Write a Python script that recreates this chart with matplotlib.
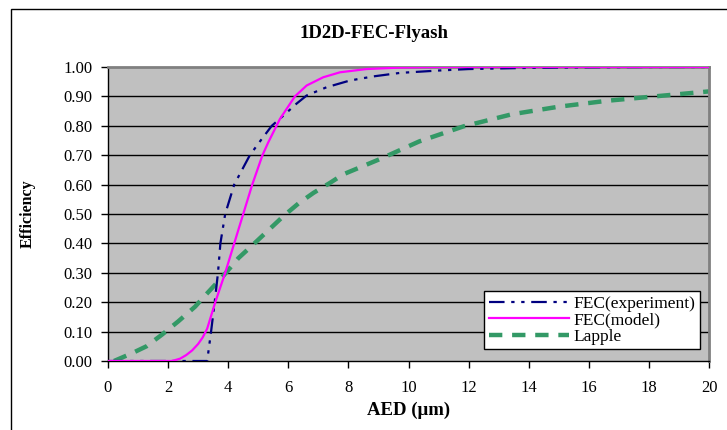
import matplotlib
matplotlib.use('Agg')
import matplotlib.pyplot as plt
from matplotlib.patches import Rectangle

# values
exp_x = [0, 3.3, 3.43, 3.55, 3.66, 3.74, 3.9, 4.2, 4.72, 5.08, 5.45, 5.83, 6.27, 6.61, 7.27, 8.05,
         8.83, 9.72, 11, 12, 14, 16, 18, 20]
exp_y = [0, 0, 0.1, 0.2, 0.3, 0.4, 0.5, 0.6, 0.7, 0.75, 0.8, 0.834, 0.875, 0.903, 0.931, 0.954,
         0.968, 0.98, 0.988, 0.993, 0.997, 0.999, 1.0, 1.0]

model_x = [0, 2.1, 2.2, 2.4, 2.6, 2.8, 3.0, 3.15, 3.3, 3.57, 3.9, 4.2, 4.5, 4.8, 5.14, 5.33, 5.72,
           6.22, 6.61, 7.16, 7.72, 8.6, 9.72, 11, 20]
model_y = [0, 0, 0.002, 0.008, 0.02, 0.036, 0.058, 0.08, 0.11, 0.2, 0.3, 0.4, 0.5, 0.6, 0.7, 0.743, 0.823,
           0.9, 0.937, 0.965, 0.982, 0.993, 0.998, 1.0, 1.0]

lapple_x = [0.2, 0.79, 1.28, 1.8, 2.34, 2.9, 3.28, 3.84, 4.34, 4.84, 5.34, 5.84, 6.34, 6.84, 7.39, 7.83,
            9.1, 10.36, 11.83, 13.43, 15.0, 16.6, 18.4, 20]
lapple_y = [0, 0.026, 0.05, 0.09, 0.135, 0.185, 0.228, 0.29, 0.35, 0.397, 0.445, 0.493, 0.536, 0.572,
            0.606, 0.635, 0.689, 0.747, 0.798, 0.839, 0.865, 0.885, 0.902, 0.917]

x_ticks = list(range(0, 21, 2))
y_ticks = [i / 10 for i in range(11)]

plt.rcParams['font.family'] = ['Liberation Serif', 'DejaVu Serif']

fig = plt.figure(figsize=(7.27, 4.30), dpi=100)
fig.patch.set_facecolor('white')
# outer chart frame (left and top edges visible)
fig.patches.append(Rectangle((11 / 727, -0.1), 1.0, 1.1 - 9 / 430, transform=fig.transFigure,
                             fill=False, edgecolor='black', linewidth=1.0))

ax = fig.add_axes([108 / 727, 1 - 361 / 430, 601 / 727, 294 / 430])
ax.set_facecolor('#c0c0c0')

for t in y_ticks[1:-1]:
    ax.axhline(t, color='black', linewidth=1.0, zorder=1)

ax.plot(exp_x, exp_y, color='#000080', linewidth=1.6, dashes=(7, 3, 1.5, 3, 1.5, 3),
        label='FEC(experiment)', zorder=3)
ax.plot(model_x, model_y, color='#ff00ff', linewidth=1.6, label='FEC(model)', zorder=4)
ax.plot(lapple_x, lapple_y, color='#339966', linewidth=3.2, dashes=(3, 2.2),
        label='Lapple', zorder=2)

ax.set_xlim(0, 20)
ax.set_ylim(0, 1)
ax.set_xticks(x_ticks)
ax.set_yticks(y_ticks)
ax.set_xticklabels([str(v) for v in x_ticks])
ax.set_yticklabels(['%.2f' % v for v in y_ticks])
ax.tick_params(direction='out', length=5, width=1, labelsize=12, colors='black', pad=6)
ax.tick_params(axis='x', pad=9)

for side in ['top', 'right']:
    ax.spines[side].set_color('#808080')
    ax.spines[side].set_linewidth(2)
for side in ['left', 'bottom']:
    ax.spines[side].set_color('black')
    ax.spines[side].set_linewidth(1)

ax.set_xlabel('AED (μm)', fontsize=13.5, fontweight='bold', labelpad=4)
ax.set_ylabel('Efficiency', fontsize=11.5, fontweight='bold', labelpad=20)
fig.text(374 / 727, 1 - 33 / 430, '1D2D-FEC-Flyash', ha='center', va='center',
         fontsize=13.5, fontweight='bold')

leg = ax.legend(loc='lower right', bbox_to_anchor=(0.985, 0.04), fontsize=12.5,
                frameon=True, fancybox=False, borderpad=0.25, labelspacing=0.02,
                handlelength=4.6, handletextpad=0.3, borderaxespad=0)
leg.get_frame().set_edgecolor('black')
leg.get_frame().set_facecolor('white')
leg.get_frame().set_alpha(1)
leg.get_frame().set_linewidth(1)

fig.savefig('out.png', dpi=100)
